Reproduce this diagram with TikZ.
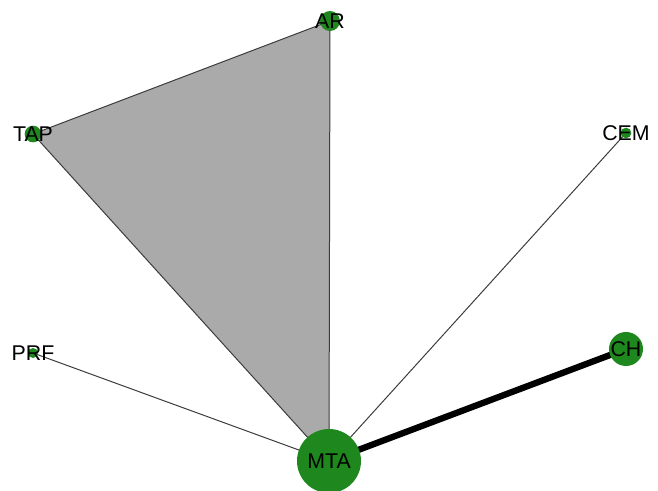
\documentclass[tikz,border=0pt]{standalone}
\usepackage{fontspec}
\setmainfont{Liberation Sans}
\usepackage{xcolor}
\usetikzlibrary{backgrounds}
\definecolor{nodegreen}{RGB}{30,135,30}
\definecolor{triangray}{RGB}{170,170,170}
\definecolor{edgegray}{RGB}{60,60,60}

\begin{document}
\begin{tikzpicture}[
    x=0.75pt, y=-0.75pt,
    every node/.style={circle, fill=nodegreen, inner sep=0mm, font=\fontsize{16}{18}\selectfont},
    every label/.style={fill=none, text=black},
    every path/.style={edgegray, line width=0.75pt}
]
\useasboundingbox (0,0) rectangle (658,491);

% Nodes
\node[minimum size=15pt,   label={center:AR}]  (AR)  at (330,21)  {};
\node[minimum size=12.5pt, label={center:TAP}] (TAP) at (33,134)  {};
\node[minimum size=8pt,    label={center:CEM}] (CEM) at (626,133) {};
\node[minimum size=7.5pt,  label={center:PRF}] (PRF) at (33,353)  {};
\node[minimum size=25.5pt, label={center:CH}]  (CH)  at (626,349) {};
\node[minimum size=48pt,   label={center:MTA}] (MTA) at (329,461) {};

% Edges
\begin{pgfonlayer}{background}
\filldraw[fill=triangray] (AR.center) -- (TAP.center) -- (MTA.center) -- cycle;
\draw (PRF.center) -- (MTA.center);
\draw (CEM.center) -- (MTA.center);
\draw[black, line width=4.75pt] (CH.center) -- (MTA.center);
\end{pgfonlayer}

\end{tikzpicture}
\end{document}
